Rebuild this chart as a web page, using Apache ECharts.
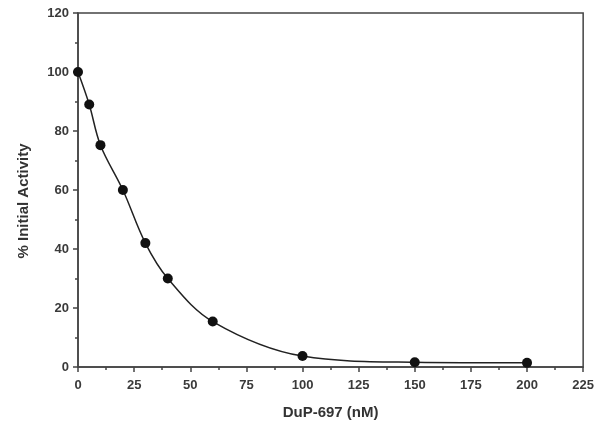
<!DOCTYPE html>
<html>
<head>
<meta charset="utf-8">
<script src="https://cdn.jsdelivr.net/npm/echarts@6/dist/echarts.min.js"></script>
<style>
  html, body { margin: 0; padding: 0; background: #fff; }
  #containergraph { width: 597px; height: 426px; }
</style>
</head>
<body>
<div id="containergraph"></div>
<script>
// concentration of DuP-697 (nM)
let dose = [0, 5, 10, 20, 30, 40, 60, 100, 150, 200];
// % initial activity
let activity = [100, 89, 75.2, 60, 42, 30, 15.4, 3.7, 1.6, 1.4];

let dom = document.getElementById("containergraph");
let myChart = echarts.init(dom, null, { renderer: "canvas" });

let points = dose.map((d, i) => [d, activity[i]]);

let labelStyle = {
  color: "#3a3a3a",
  fontFamily: "Liberation Sans",
  fontWeight: "bold",
  fontSize: 13,
};

let option = {
  animation: false,
  grid: {
    left: 78,
    top: 13,
    right: 12,
    bottom: 59,
    show: true,
    borderColor: "#444",
    borderWidth: 1.5,
    backgroundColor: "#fff",
  },
  xAxis: {
    type: "value",
    min: 0,
    max: 225,
    interval: 25,
    name: "DuP-697 (nM)",
    nameLocation: "middle",
    nameGap: 38,
    nameTextStyle: { color: "#333", fontFamily: "Liberation Sans", fontWeight: "bold", fontSize: 15 },
    axisLine: { lineStyle: { color: "#444", width: 1.5 } },
    axisTick: { length: 5, lineStyle: { color: "#444", width: 1.5 } },
    minorTick: { show: true, splitNumber: 2, length: 3, lineStyle: { color: "#444", width: 1.5 } },
    axisLabel: Object.assign({ margin: 12 }, labelStyle),
    splitLine: { show: false },
  },
  yAxis: {
    type: "value",
    min: 0,
    max: 120,
    interval: 20,
    name: "% Initial Activity",
    nameLocation: "middle",
    nameGap: 47,
    nameTextStyle: {
      color: "#333", fontFamily: "Liberation Sans", fontWeight: "bold", fontSize: 15,
      padding: [0, 22, 0, 0],
    },
    axisLine: { show: true, lineStyle: { color: "#444", width: 1.5 } },
    axisTick: { show: true, length: 5, lineStyle: { color: "#444", width: 1.5 } },
    minorTick: { show: true, splitNumber: 2, length: 3, lineStyle: { color: "#444", width: 1.5 } },
    axisLabel: Object.assign({ margin: 9 }, labelStyle),
    splitLine: { show: false },
  },
  series: [
    {
      type: "line",
      data: points,
      smooth: 0.35,
      symbol: "circle",
      symbolSize: 10,
      itemStyle: { color: "#111" },
      lineStyle: { color: "#222", width: 1.5 },
    },
  ],
};

myChart.setOption(option);
window.addEventListener("resize", myChart.resize);
</script>
</body>
</html>
